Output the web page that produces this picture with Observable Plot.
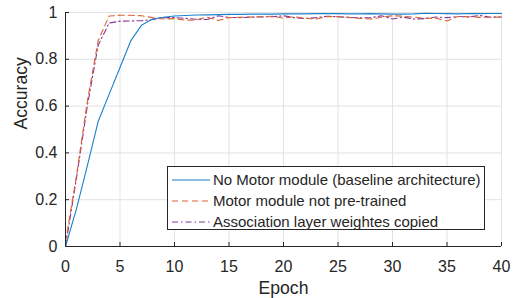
<!DOCTYPE html>
<html>
<head>
<meta charset="utf-8">
<script src="https://cdn.jsdelivr.net/npm/d3@7"></script>
<script src="https://cdn.jsdelivr.net/npm/@observablehq/plot@0.6"></script>
<style>
  html, body { margin: 0; padding: 0; background: #fff; }
  #wrap { position: relative; width: 513px; height: 298px; font-family: "Liberation Sans", Arial, sans-serif; }
  #legend { position: absolute; left: 167px; top: 166px; width: 318px; height: 64px; border: 1px solid #262626; background: #fff; box-sizing: border-box; }
  .row { position: absolute; left: 0; height: 21px; display: flex; align-items: center; font-size: 15px; color: #262626; white-space: nowrap; }
  .row svg { margin-left: 4px; margin-right: 3px; }
</style>
</head>
<body>
<div id="wrap"><div id="legend"></div></div>
<script>
const epochs = d3.range(0, 41);
const baseline = [0, 0.16, 0.345, 0.535, 0.65, 0.765, 0.88, 0.947, 0.972, 0.98, 0.985,
  0.987, 0.989, 0.99, 0.991, 0.992, 0.992, 0.993, 0.993, 0.993, 0.994,
  0.994, 0.994, 0.995, 0.995, 0.995, 0.994, 0.994, 0.995, 0.994, 0.993,
  0.993, 0.994, 0.997, 0.996, 0.995, 0.994, 0.996, 0.995, 0.996, 0.996];
const notPretrained = [0.02, 0.30, 0.62, 0.88, 0.985, 0.988, 0.988, 0.986, 0.978, 0.972, 0.974,
  0.967, 0.968, 0.98, 0.966, 0.978, 0.98, 0.981, 0.982, 0.984, 0.976,
  0.982, 0.975, 0.972, 0.983, 0.982, 0.979, 0.975, 0.972, 0.98, 0.986,
  0.984, 0.98, 0.975, 0.976, 0.964, 0.983, 0.982, 0.979, 0.98, 0.981];
const weightsCopied = [0, 0.29, 0.60, 0.86, 0.955, 0.963, 0.964, 0.965, 0.97, 0.978, 0.978,
  0.975, 0.971, 0.97, 0.986, 0.979, 0.978, 0.98, 0.981, 0.982, 0.986,
  0.978, 0.974, 0.978, 0.984, 0.982, 0.979, 0.977, 0.978, 0.986, 0.972,
  0.98, 0.972, 0.974, 0.981, 0.978, 0.983, 0.981, 0.987, 0.98, 0.981];
const seriesNames = ["No Motor module (baseline architecture)", "Motor module not pre-trained", "Association layer weightes copied"];
const seriesColors = ["#1a80cc", "#dc6130", "#85399a"];
const seriesDash = [null, "6,4", "6,3,1.5,3"];
const xTicks = [0, 5, 10, 15, 20, 25, 30, 35, 40];
const yTicks = [0, 0.2, 0.4, 0.6, 0.8, 1];
const xLabel = "Epoch";
const yLabel = "Accuracy";

const series = [baseline, notPretrained, weightsCopied];
const W = 513, H = 298, mL = 65, mR = 12, mT = 12, mB = 52;
const axisColor = "#262626";
const gridColor = "#e3e3e3";

const lineMarks = series.map((vals, s) => Plot.lineY(vals, {
  x: (d, i) => epochs[i], y: d => d,
  stroke: seriesColors[s], strokeWidth: 1.1, strokeDasharray: seriesDash[s]
}));

const chart = Plot.plot({
  width: W, height: H,
  marginLeft: mL, marginRight: mR, marginTop: mT, marginBottom: mB,
  style: { fontFamily: "Liberation Sans, Arial, sans-serif", color: axisColor, background: "transparent", overflow: "visible" },
  x: { domain: [0, 40] },
  y: { domain: [0, 1] },
  marks: [
    Plot.gridX(xTicks, { stroke: gridColor, strokeOpacity: 1 }),
    Plot.gridY(yTicks, { stroke: gridColor, strokeOpacity: 1 }),
    ...lineMarks.slice().reverse(),
    Plot.ruleY([0], { stroke: axisColor }),
    Plot.ruleX([0], { stroke: axisColor }),
    Plot.tickX(xTicks, { x: d => d, stroke: axisColor, insetTop: H - mT - mB - 4 }),
    Plot.tickY(yTicks, { y: d => d, stroke: axisColor, insetRight: W - mL - mR - 4 }),
    Plot.axisX(xTicks, { tickSize: 0, tickPadding: 14, fontSize: 16, label: null, tickFormat: d => String(d) }),
    Plot.axisY(yTicks, { tickSize: 0, tickPadding: 8, fontSize: 16, label: null, tickFormat: d => String(d) }),
    Plot.text([xLabel], { text: d => d, frameAnchor: "bottom", dy: 42, fontSize: 17.6, lineAnchor: "middle", fill: axisColor }),
    Plot.text([yLabel], { text: d => d, frameAnchor: "left", rotate: -90, dx: -44, fontSize: 17.6, lineAnchor: "middle", fill: axisColor })
  ]
});
document.getElementById("wrap").prepend(chart);

const legend = document.getElementById("legend");
seriesNames.forEach((name, s) => {
  const row = document.createElement("div");
  row.className = "row";
  row.style.top = (2 + s * 21) + "px";
  const dash = seriesDash[s] ? ` stroke-dasharray="${seriesDash[s]}"` : "";
  row.innerHTML = `<svg width="38" height="6"><line x1="0" y1="3" x2="38" y2="3" stroke="${seriesColors[s]}" stroke-width="1.1"${dash}/></svg><span>${name}</span>`;
  legend.appendChild(row);
});
</script>
</body>
</html>
